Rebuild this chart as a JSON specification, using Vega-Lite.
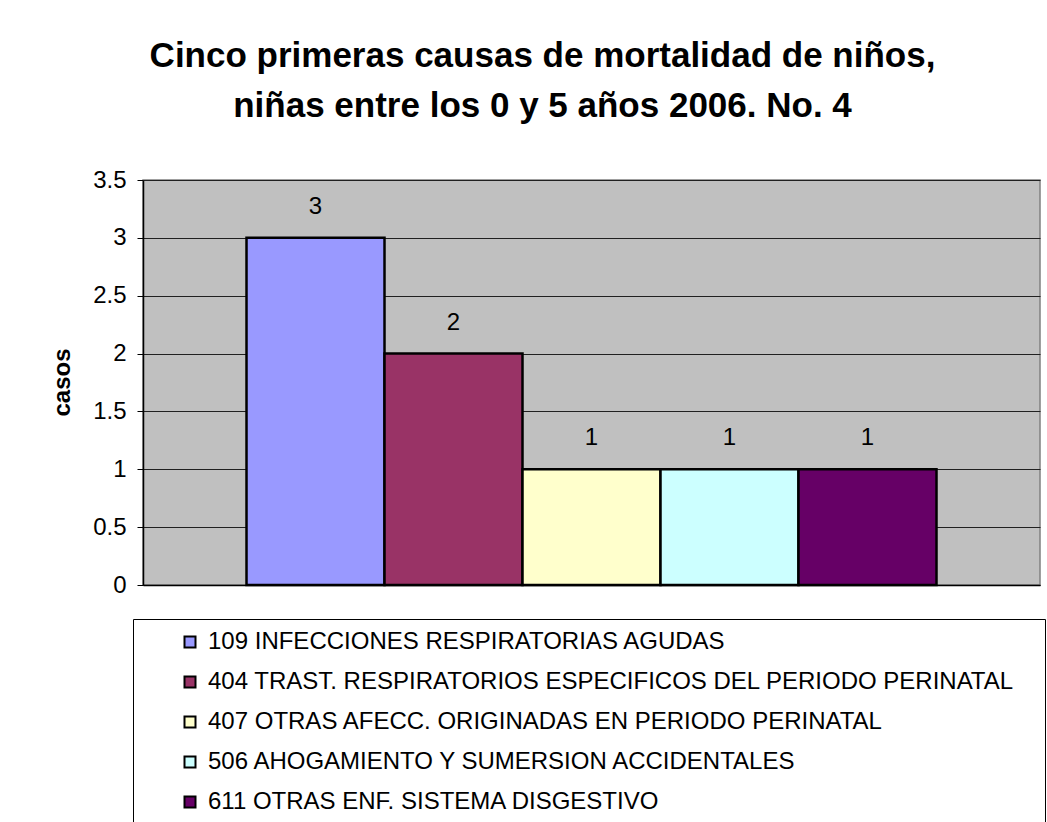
{
  "$schema": "https://vega.github.io/schema/vega-lite/v6.json",
  "width": 897,
  "height": 405,
  "autosize": {"type": "none"},
  "padding": {"left": 143, "top": 180, "right": 7, "bottom": 237},
  "background": "white",
  "title": {
    "text": ["Cinco primeras causas de mortalidad de niños,", "niñas entre los 0 y 5 años 2006. No. 4"],
    "font": "Liberation Sans",
    "fontSize": 35,
    "fontWeight": "bold",
    "color": "black",
    "lineHeight": 50,
    "anchor": "middle",
    "dx": -49,
    "offset": 44
  },
  "data": {
    "values": [
      {"causa": "109 INFECCIONES RESPIRATORIAS AGUDAS", "casos": 3},
      {"causa": "404 TRAST. RESPIRATORIOS ESPECIFICOS DEL PERIODO PERINATAL", "casos": 2},
      {"causa": "407 OTRAS AFECC. ORIGINADAS EN PERIODO PERINATAL", "casos": 1},
      {"causa": "506 AHOGAMIENTO Y SUMERSION ACCIDENTALES", "casos": 1},
      {"causa": "611 OTRAS ENF. SISTEMA DISGESTIVO", "casos": 1}
    ]
  },
  "encoding": {
    "x": {
      "field": "causa",
      "type": "nominal",
      "sort": null,
      "scale": {"paddingInner": 0, "paddingOuter": 0.75},
      "axis": {
        "title": null,
        "labels": false,
        "ticks": false,
        "domainColor": "black",
        "domainWidth": 1.5,
        "grid": false
      }
    },
    "y": {
      "field": "casos",
      "type": "quantitative",
      "scale": {"domain": [0, 3.5], "nice": false},
      "axis": {
        "title": "casos",
        "titleFont": "Liberation Sans",
        "titleFontSize": 24,
        "titleFontWeight": "bold",
        "titleColor": "black",
        "titleAngle": -90,
        "titleX": -81,
        "titleY": 202,
        "titleAlign": "center",
        "titleBaseline": "middle",
        "values": [0, 0.5, 1, 1.5, 2, 2.5, 3, 3.5],
        "format": "~g",
        "labelFont": "Liberation Sans",
        "labelFontSize": 24,
        "labelColor": "black",
        "labelPadding": 11,
        "tickSize": 6,
        "tickColor": "black",
        "domainColor": "black",
        "domainWidth": 1.5,
        "grid": true,
        "gridColor": "#202020",
        "gridWidth": 1.2,
        "gridOpacity": 1
      }
    }
  },
  "layer": [
    {
      "mark": {"type": "bar", "stroke": "black", "strokeWidth": 2.5},
      "encoding": {
        "color": {
          "field": "causa",
          "type": "nominal",
          "sort": null,
          "scale": {"range": ["#9999FF", "#993366", "#FFFFCC", "#CCFFFF", "#660066"]},
          "legend": {
            "title": " ",
            "titleOrient": "right",
            "titlePadding": 20,
            "orient": "none",
            "legendX": -10,
            "legendY": 439,
            "direction": "vertical",
            "padding": 11,
            "strokeColor": "black",
            "fillColor": "white",
            "symbolType": "square",
            "symbolSize": 121,
            "symbolStrokeColor": "black",
            "symbolStrokeWidth": 2,
            "symbolOffset": 34,
            "labelFont": "Liberation Sans",
            "labelFontSize": 24,
            "labelColor": "black",
            "labelLimit": 1000,
            "labelOffset": 6,
            "rowPadding": 16
          }
        }
      }
    },
    {
      "mark": {
        "type": "text",
        "font": "Liberation Sans",
        "fontSize": 24,
        "color": "black",
        "baseline": "alphabetic",
        "dy": -24
      },
      "encoding": {
        "text": {"field": "casos", "type": "quantitative"}
      }
    }
  ],
  "config": {
    "view": {"fill": "#C0C0C0", "stroke": "#808080", "strokeWidth": 1.5}
  }
}
